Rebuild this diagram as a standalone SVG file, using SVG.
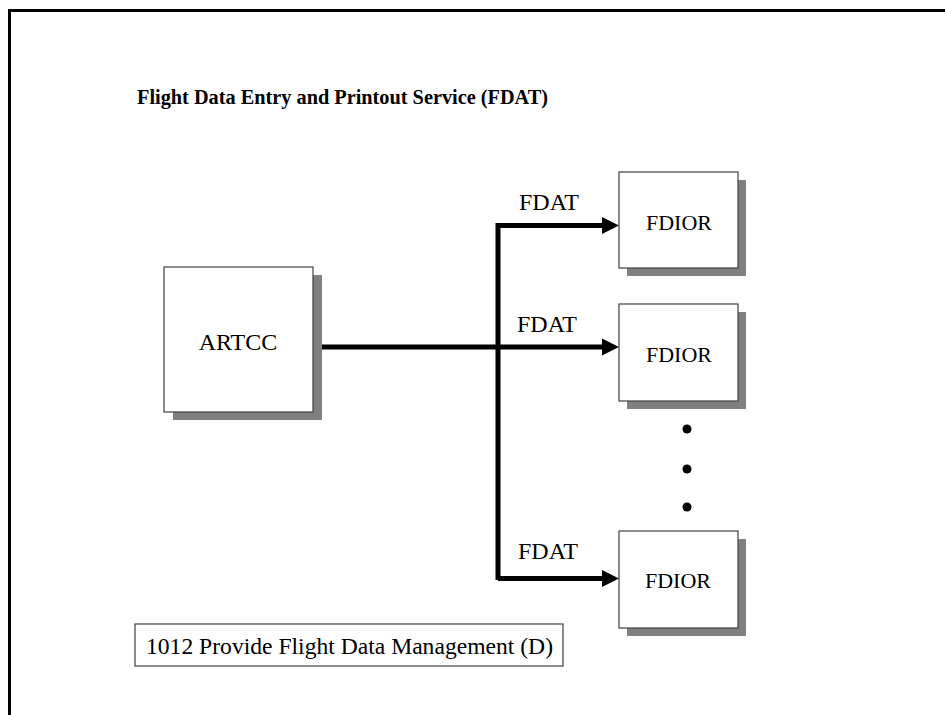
<svg xmlns="http://www.w3.org/2000/svg" width="945" height="715" viewBox="0 0 945 715">
<defs>
<style>
.t{font-family:"Liberation Serif","Times New Roman",serif;fill:#000}
.box{fill:#fff;stroke:#404040;stroke-width:1.2}
.sh{fill:#808080}
.ln{stroke:#000;stroke-width:5;fill:none}
</style>
</defs>
<rect width="945" height="715" fill="#fff"/>
<path d="M9.5,715 V10.5 H945" fill="none" stroke="#000" stroke-width="3"/>
<text class="t" x="137" y="104" font-size="20" font-weight="bold" textLength="411" lengthAdjust="spacingAndGlyphs">Flight Data Entry and Printout Service (FDAT)</text>
<g id="connectors">
<path class="ln" d="M320,347 H602"/>
<path class="ln" d="M498,580 V225.5 H602"/>
<path class="ln" d="M498,578.5 H602"/>
<path d="M602,217 L619,225.5 L602,234 Z"/>
<path d="M602,338.5 L619,347 L602,355.5 Z"/>
<path d="M602,570 L619,578.5 L602,587 Z"/>
<text class="t" x="549" y="210" font-size="24" text-anchor="middle">FDAT</text>
<text class="t" x="547" y="332" font-size="24" text-anchor="middle">FDAT</text>
<text class="t" x="548" y="559" font-size="24" text-anchor="middle">FDAT</text>
</g>
<g id="artcc">
<rect class="sh" x="173" y="275" width="149" height="145"/>
<rect class="box" x="164" y="267" width="149" height="145"/>
<text class="t" x="238" y="350" font-size="24" text-anchor="middle">ARTCC</text>
</g>
<g id="fdior1">
<rect class="sh" x="627" y="180" width="119" height="96"/>
<rect class="box" x="619" y="172" width="119" height="96"/>
<text class="t" x="679" y="230" font-size="22" text-anchor="middle">FDIOR</text>
</g>
<g id="fdior2">
<rect class="sh" x="627" y="312" width="119" height="97"/>
<rect class="box" x="619" y="304" width="119" height="97"/>
<text class="t" x="679" y="362" font-size="22" text-anchor="middle">FDIOR</text>
</g>
<g id="dots">
<circle cx="687" cy="429" r="4.5"/>
<circle cx="687" cy="469" r="4.5"/>
<circle cx="687" cy="507" r="4.5"/>
</g>
<g id="fdior3">
<rect class="sh" x="627" y="539" width="119" height="97"/>
<rect class="box" x="619" y="531" width="119" height="97"/>
<text class="t" x="678" y="588" font-size="22" text-anchor="middle">FDIOR</text>
</g>
<g id="label">
<rect x="135" y="624" width="428" height="42" fill="#fff" stroke="#404040" stroke-width="1.2"/>
<text class="t" x="146" y="654" font-size="24" textLength="407" lengthAdjust="spacingAndGlyphs">1012 Provide Flight Data Management (D)</text>
</g>
</svg>
